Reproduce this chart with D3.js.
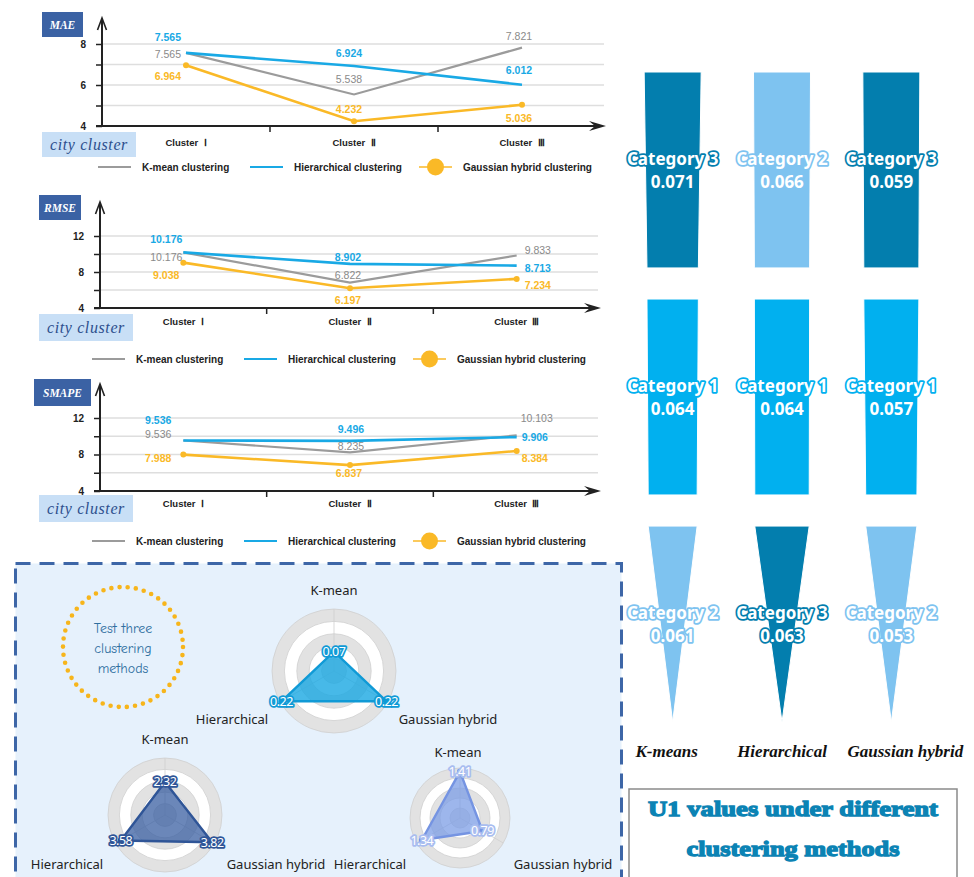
<!DOCTYPE html>
<html>
<head>
<meta charset="utf-8">
<script src="https://cdn.jsdelivr.net/npm/d3@7"></script>
<style>
body { margin: 0; background: #fff; }
svg { display: block; }
</style>
</head>
<body>
<div id="chart"></div>
<script>
// ---------- data ----------
var clusters = ["Cluster\u00a0 \u2160", "Cluster\u00a0 \u2161", "Cluster\u00a0 \u2162"];
var seriesNames = ["K-mean clustering", "Hierarchical clustering", "Gaussian hybrid clustering"];

var maeKmean = [7.565, 5.538, 7.821];
var maeHier = [7.565, 6.924, 6.012];
var maeGauss = [6.964, 4.232, 5.036];

var rmseKmean = [10.176, 6.822, 9.833];
var rmseHier = [10.176, 8.902, 8.713];
var rmseGauss = [9.038, 6.197, 7.234];

var smapeKmean = [9.536, 8.235, 10.103];
var smapeHier = [9.536, 9.496, 9.906];
var smapeGauss = [7.988, 6.837, 8.384];

var maeTicks = [4, 6, 8];
var rmseTicks = [4, 8, 12];
var smapeTicks = [4, 8, 12];

var radarAxes = ["K-mean", "Hierarchical", "Gaussian hybrid"];
var radarA = [0.07, 0.22, 0.22];
var radarB = [2.32, 3.58, 3.82];
var radarC = [1.41, 1.34, 0.79];

var methods = ["K-means", "Hierarchical", "Gaussian hybrid"];
var funnelCats = [
	["Category 3", "Category 1", "Category 2"],
	["Category 2", "Category 1", "Category 3"],
	["Category 3", "Category 1", "Category 2"]
];
var funnelVals = [
	[0.071, 0.064, 0.061],
	[0.066, 0.064, 0.063],
	[0.059, 0.057, 0.053]
];

// ---------- styles ----------
var seriesColors = ["#9b9b9b", "#19a9e5", "#fab927"];
var catColor = { "Category 1": "#01b0ef", "Category 2": "#7ec3f0", "Category 3": "#037eae" };

var svg = d3.select("#chart").append("svg")
	.attr("width", 974)
	.attr("height", 877);

svg.append("rect").attr("width", 974).attr("height", 877).attr("fill", "#fff");

// function used for drawing one of the three line charts
function lineChart(cfg) {
	var g = svg.append("g");
	var x = d3.scaleBand().domain(clusters).range([cfg.x0, cfg.x1]);
	var y = d3.scaleLinear().domain(cfg.domain).range([cfg.yBase, cfg.yTop]);
	var cx = i => x(clusters[i]) + x.bandwidth() / 2;

	var gridVals = d3.range(cfg.domain[0] + cfg.step, cfg.domain[1] + cfg.step / 2, cfg.step);

	// grid
	g.selectAll(".grid").data(gridVals).enter().append("line")
		.attr("x1", cfg.x0).attr("x2", cfg.x1 - 2)
		.attr("y1", d => y(d)).attr("y2", d => y(d))
		.attr("stroke", "#dedede").attr("stroke-width", 1.6);

	// y axis
	var leftAxis = d3.axisLeft(y)
		.tickValues([cfg.domain[0]].concat(gridVals))
		.tickSize(6)
		.tickPadding(10)
		.tickFormat(d => cfg.ticks.indexOf(d) >= 0 ? d : "");
	var ya = g.append("g").attr("transform", `translate(${cfg.x0},0)`).call(leftAxis);
	ya.select(".domain").remove();
	ya.selectAll("line").attr("stroke", "#222").attr("stroke-width", 1.5);
	ya.selectAll("text").attr("font-family", "Liberation Sans, Arial").attr("font-weight", "bold")
		.attr("font-size", 10).attr("fill", "#222");

	g.append("line").attr("x1", cfg.x0).attr("x2", cfg.x0)
		.attr("y1", cfg.yBase + 1).attr("y2", cfg.arrowTop + 1)
		.attr("stroke", "#222").attr("stroke-width", 2);
	g.append("path")
		.attr("d", `M${cfg.x0 - 4.5},${cfg.arrowTop + 12} L${cfg.x0},${cfg.arrowTop} L${cfg.x0 + 4.5},${cfg.arrowTop + 12}`)
		.attr("fill", "none").attr("stroke", "#222").attr("stroke-width", 1.6);

	// x axis
	var bottomAxis = d3.axisBottom(x).tickSize(0).tickPadding(cfg.pad);
	var xa = g.append("g").attr("transform", `translate(0,${cfg.yBase})`).call(bottomAxis);
	xa.select(".domain").remove();
	xa.selectAll("text").attr("font-family", "Liberation Sans, Arial").attr("font-weight", "bold")
		.attr("font-size", 9.5).attr("fill", "#222");

	g.append("line").attr("x1", cfg.x0 - 6).attr("x2", cfg.arrowRight - 4)
		.attr("y1", cfg.yBase).attr("y2", cfg.yBase)
		.attr("stroke", "#222").attr("stroke-width", 2);
	g.append("path")
		.attr("d", `M${cfg.arrowRight},${cfg.yBase} L${cfg.arrowRight - 17},${cfg.yBase - 5} L${cfg.arrowRight - 11},${cfg.yBase} L${cfg.arrowRight - 17},${cfg.yBase + 5} Z`)
		.attr("fill", "#222");
	g.selectAll(".bnd").data(clusters.slice(1)).enter().append("line")
		.attr("x1", d => x(d)).attr("x2", d => x(d))
		.attr("y1", cfg.yBase).attr("y2", cfg.yBase + 6)
		.attr("stroke", "#222").attr("stroke-width", 1.5);

	// lines
	var line = d3.line().x((d, i) => cx(i)).y(d => y(d));
	cfg.data.forEach(function(vals, s) {
		g.append("path").datum(vals)
			.attr("d", line)
			.attr("fill", "none")
			.attr("stroke", seriesColors[s])
			.attr("stroke-width", s === 0 ? 2.2 : 2.6);
	});
	g.selectAll(".dot").data(cfg.data[2]).enter().append("circle")
		.attr("cx", (d, i) => cx(i)).attr("cy", d => y(d))
		.attr("r", 3).attr("fill", seriesColors[2]);

	// value labels
	cfg.data.forEach(function(vals, s) {
		vals.forEach(function(v, i) {
			var o = cfg.labelOff[s][i];
			g.append("text")
				.attr("x", cx(i) + o[0])
				.attr("y", y(v) + o[1] + 4)
				.attr("text-anchor", o[2])
				.attr("font-family", "Liberation Sans, Arial")
				.attr("font-size", 10.5)
				.attr("font-weight", s === 0 ? "normal" : "bold")
				.attr("fill", s === 0 ? "#8a8a8a" : seriesColors[s])
				.text(v.toFixed(3));
		});
	});

	// title box
	var t = cfg.titleBox;
	g.append("rect").attr("x", t[0]).attr("y", t[1]).attr("width", t[2]).attr("height", t[3]).attr("fill", "#3b62a4");
	g.append("text").attr("x", t[0] + t[2] / 2).attr("y", t[1] + t[3] / 2 + 4)
		.attr("text-anchor", "middle").attr("fill", "#fff")
		.attr("font-family", "Liberation Serif, Times New Roman").attr("font-style", "italic")
		.attr("font-weight", "bold").attr("font-size", 11.5)
		.text(cfg.title);

	// city cluster box
	var c = cfg.cityBox;
	g.append("rect").attr("x", c[0]).attr("y", c[1]).attr("width", c[2]).attr("height", c[3]).attr("fill", "#c8dff6");
	g.append("text").attr("x", c[0] + c[2] / 2).attr("y", c[1] + c[3] / 2 + 5)
		.attr("text-anchor", "middle").attr("fill", "#2d4f8e")
		.attr("font-family", "Liberation Serif, Times New Roman").attr("font-style", "italic")
		.attr("font-size", 16).attr("letter-spacing", 0.6)
		.text("city cluster");

	// legend
	var lg = g.append("g").attr("transform", `translate(0,${cfg.legendY})`);
	seriesNames.forEach(function(name, s) {
		var lx = cfg.legendX[s];
		lg.append("line").attr("x1", lx).attr("x2", lx + 33).attr("y1", 0).attr("y2", 0)
			.attr("stroke", seriesColors[s]).attr("stroke-width", s === 2 ? 1.5 : 2);
		if (s === 2) {
			lg.append("circle").attr("cx", lx + 16.5).attr("cy", 0).attr("r", 8.5).attr("fill", seriesColors[2]);
		}
		lg.append("text").attr("x", lx + 44).attr("y", 4)
			.attr("font-family", "Liberation Sans, Arial").attr("font-weight", "bold")
			.attr("font-size", 10).attr("fill", "#222")
			.text(name);
	});
}

lineChart({
	title: "MAE", titleBox: [42, 12, 41, 25], cityBox: [42, 132, 94, 25],
	x0: 102, x1: 606, arrowRight: 606, yBase: 126, yTop: 44, arrowTop: 18,
	domain: [4, 8], step: 1, ticks: maeTicks, pad: 13,
	data: [maeKmean, maeHier, maeGauss],
	legendY: 167, legendX: [98, 250, 419],
	labelOff: [
		[[-5, 1, "end"], [-5, -15, "middle"], [-3, -12, "middle"]],
		[[-5, -16, "end"], [-5, -13, "middle"], [-3, -15, "middle"]],
		[[-5, 11, "end"], [-5, -12, "middle"], [-3, 13, "middle"]]
	]
});

lineChart({
	title: "RMSE", titleBox: [39, 195, 42, 25], cityBox: [39, 314, 94, 27],
	x0: 100, x1: 600, arrowRight: 601, yBase: 308, yTop: 236, arrowTop: 202,
	domain: [4, 12], step: 2, ticks: rmseTicks, pad: 10,
	data: [rmseKmean, rmseHier, rmseGauss],
	legendY: 359, legendX: [92, 244, 413],
	labelOff: [
		[[-1, 5, "end"], [-2, -8, "middle"], [8, -6, "start"]],
		[[-1, -13, "end"], [-2, -7, "middle"], [8, 2, "start"]],
		[[-4, 12, "end"], [-2, 12, "middle"], [8, 6, "start"]]
	]
});

lineChart({
	title: "SMAPE", titleBox: [34, 379, 57, 27], cityBox: [39, 495, 94, 27],
	x0: 100, x1: 600, arrowRight: 601, yBase: 491, yTop: 418, arrowTop: 384,
	domain: [4, 12], step: 2, ticks: smapeTicks, pad: 9,
	data: [smapeKmean, smapeHier, smapeGauss],
	legendY: 541, legendX: [92, 244, 413],
	labelOff: [
		[[-12, -6, "end"], [1, -6, "middle"], [4, -17, "start"]],
		[[-12, -20, "end"], [1, -12, "middle"], [5, 0, "start"]],
		[[-12, 3, "end"], [-1, 8, "middle"], [5, 7, "start"]]
	]
});

// ---------- radar panel ----------
svg.append("rect")
	.attr("x", 15.5).attr("y", 563.5).attr("width", 606).attr("height", 340)
	.attr("fill", "#e6f1fc").attr("stroke", "#3d66a7").attr("stroke-width", 3)
	.attr("stroke-dasharray", "15,9");

svg.append("circle")
	.attr("cx", 123).attr("cy", 647).attr("r", 60)
	.attr("fill", "none").attr("stroke", "#f7b51b").attr("stroke-width", 4.6)
	.attr("stroke-linecap", "round").attr("stroke-dasharray", "0,8.2");

["Test three", "clustering", "methods"].forEach(function(s, i) {
	svg.append("text").attr("x", 123).attr("y", 633 + i * 20)
		.attr("text-anchor", "middle").attr("fill", "#2f6f9f")
		.attr("font-family", "Comic Sans MS, Comic Neue, DejaVu Sans")
		.attr("font-size", 14)
		.text(s);
});

// function used for drawing a radar chart
function radar(cx, cy, R, max, vals, fill, stroke, labelStroke, fillOpacity, nameOff) {
	var g = svg.append("g").attr("transform", `translate(${cx},${cy})`);
	var r = d3.scaleLinear().domain([0, max]).range([0, R]);
	var angles = [0, 4 * Math.PI / 3, 2 * Math.PI / 3];

	d3.range(5, 0, -1).forEach(function(k) {
		g.append("circle").attr("r", R * k / 5)
			.attr("fill", k % 2 === 1 ? "#e2e2e2" : "#fff")
			.attr("stroke", "#cfcfcf").attr("stroke-width", 0.8);
	});
	angles.forEach(function(a) {
		g.append("line").attr("x1", 0).attr("y1", 0)
			.attr("x2", R * Math.sin(a)).attr("y2", -R * Math.cos(a))
			.attr("stroke", "#cfcfcf").attr("stroke-width", 0.8);
	});

	var radial = d3.lineRadial()
		.angle((d, i) => angles[i])
		.radius(d => r(d))
		.curve(d3.curveLinearClosed);
	g.append("path").datum(vals).attr("d", radial)
		.attr("fill", fill).attr("fill-opacity", fillOpacity)
		.attr("stroke", stroke).attr("stroke-width", 2.4).attr("stroke-linejoin", "round");

	vals.forEach(function(v, i) {
		g.append("circle")
			.attr("cx", r(v) * Math.sin(angles[i])).attr("cy", -r(v) * Math.cos(angles[i]))
			.attr("r", 3).attr("fill", stroke);
		g.append("text")
			.attr("x", r(v) * Math.sin(angles[i])).attr("y", -r(v) * Math.cos(angles[i]) + 4.5)
			.attr("text-anchor", "middle")
			.attr("font-family", "Noto Sans, DejaVu Sans").attr("font-size", 12.5)
			.attr("letter-spacing", -0.5)
			.attr("fill", "#fff").attr("stroke", labelStroke).attr("stroke-width", 3.5)
			.attr("stroke-linejoin", "round").attr("paint-order", "stroke")
			.text(v);
	});

	radarAxes.forEach(function(name, i) {
		g.append("text")
			.attr("x", nameOff[i][0]).attr("y", nameOff[i][1] + 5)
			.attr("text-anchor", "middle")
			.attr("font-family", "Noto Sans, DejaVu Sans").attr("font-size", 13)
			.attr("fill", "#222")
			.text(name);
	});
}

radar(334, 671, 62, 0.225, radarA, "#19a8e2", "#109ad6", "#109ad6", 0.8, [[0, -81], [-102, 48], [114, 48]]);
radar(165, 815, 57, 4.0, radarB, "#3a5fa2", "#2f5597", "#2f5597", 0.75, [[0, -76], [-98, 49], [111, 49]]);
radar(460, 818, 50, 1.52, radarC, "#7c9de6", "#7594e2", "#a9bdf0", 0.75, [[-2, -66], [-90, 46], [103, 46]]);

// ---------- funnels ----------
var fx = d3.scaleBand().domain(methods).range([618, 946]);
var fy = d3.scaleBand().domain([0, 1, 2]).range([72, 722]).paddingInner(0.137);

methods.forEach(function(m, j) {
	var w = d3.scaleLinear().domain([0, d3.max(funnelVals[j])]).range([0, 57]);
	var cx = fx(m) + fx.bandwidth() / 2;
	funnelVals[j].forEach(function(v, i) {
		var top = fy(i), bot = fy(i) + fy.bandwidth();
		var wt = w(v), wb = i < 2 ? w(funnelVals[j][i + 1]) : 0;
		var col = catColor[funnelCats[j][i]];
		svg.append("path")
			.attr("d", `M${cx - wt / 2},${top} L${cx + wt / 2},${top} L${cx + wb / 2},${bot} L${cx - wb / 2},${bot} Z`)
			.attr("fill", col).attr("stroke", "#fff").attr("stroke-width", 1);
		var mid = top + fy.bandwidth() / 2;
		[funnelCats[j][i], v.toFixed(3)].forEach(function(s, k) {
			svg.append("text")
				.attr("x", cx).attr("y", mid - 11 + k * 23 + 6)
				.attr("text-anchor", "middle")
				.attr("font-family", "Noto Sans, DejaVu Sans").attr("font-weight", "bold")
				.attr("font-size", 17)
				.attr("fill", "#fff").attr("stroke", col).attr("stroke-width", 3.5)
				.attr("stroke-linejoin", "round").attr("paint-order", "stroke")
				.text(s);
		});
	});
});

var methodShift = [-6, 0, 14];
methods.forEach(function(m, j) {
	svg.append("text")
		.attr("x", fx(m) + fx.bandwidth() / 2 + methodShift[j]).attr("y", 757)
		.attr("text-anchor", "middle")
		.attr("font-family", "Liberation Serif, Times New Roman")
		.attr("font-weight", "bold").attr("font-style", "italic")
		.attr("font-size", 17).attr("fill", "#111")
		.text(m);
});

// ---------- caption box ----------
svg.append("rect").attr("x", 629).attr("y", 789).attr("width", 328).attr("height", 120)
	.attr("fill", "#fff").attr("stroke", "#8a8a8a").attr("stroke-width", 1.5);

[["U1 values under different", 816, 290], ["clustering methods", 856, 213]].forEach(function(t) {
	svg.append("text")
		.attr("x", 793).attr("y", t[1])
		.attr("text-anchor", "middle")
		.attr("font-family", "Liberation Serif, Times New Roman")
		.attr("font-weight", "bold").attr("font-size", 22)
		.attr("fill", "#0b83b4").attr("stroke", "#0b83b4").attr("stroke-width", 1.3)
		.attr("textLength", t[2]).attr("lengthAdjust", "spacingAndGlyphs")
		.text(t[0]);
});
</script>
</body>
</html>
